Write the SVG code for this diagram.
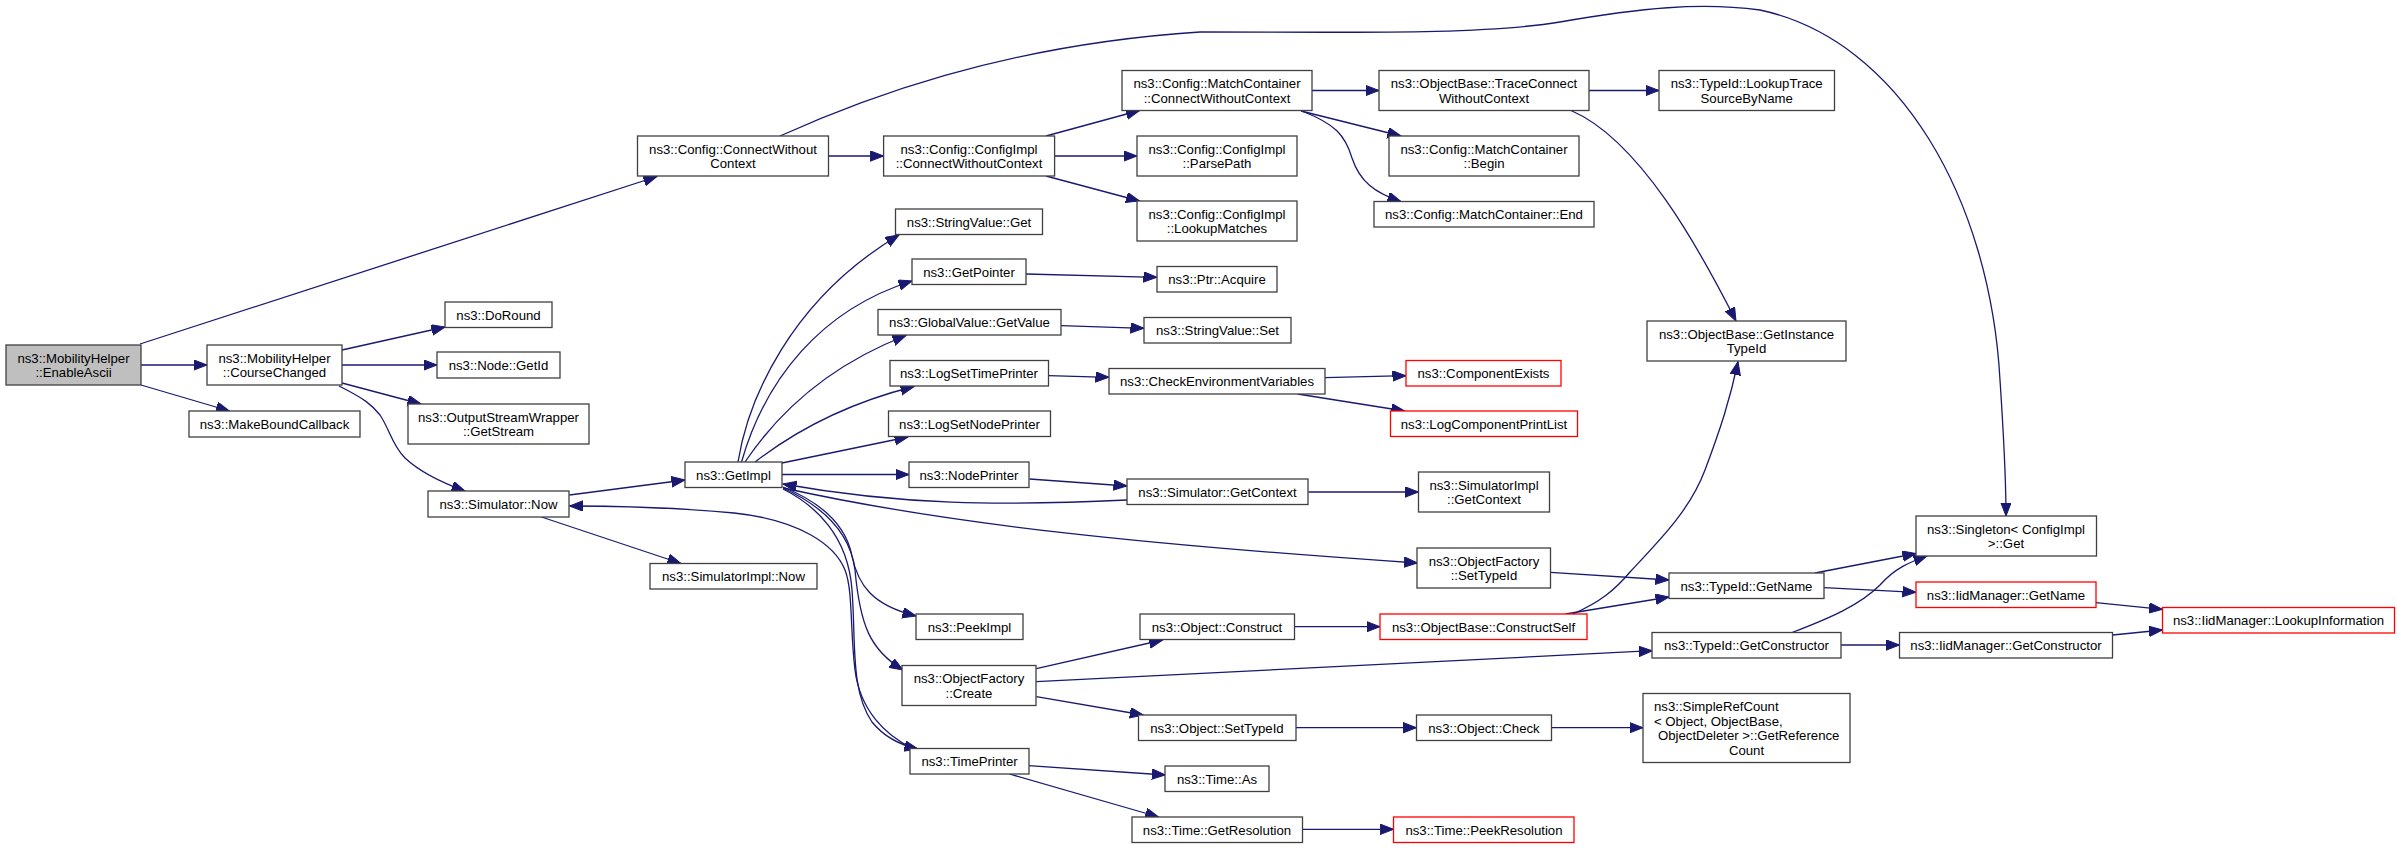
<svg xmlns="http://www.w3.org/2000/svg" width="2397" height="848" viewBox="0 0 2397 848">
<defs>
<marker id="ah" markerWidth="15" markerHeight="12" refX="13.5" refY="5.25" orient="auto" markerUnits="userSpaceOnUse">
<path d="M0,0 L13.5,5.25 L0,10.5 z" fill="#191970" stroke="#191970" stroke-width="1"/>
</marker>
<style>
.n rect{fill:#ffffff;stroke:#404040;stroke-width:1.3}
.r rect{stroke:#ff0000}
.g rect{fill:#bfbfbf}
text{font-family:"Liberation Sans",Arial,Helvetica,sans-serif;font-size:13.2px;text-anchor:middle;fill:#000000}
text.l{text-anchor:start}
#edges path{fill:none;stroke:#191970;stroke-width:1.3;marker-end:url(#ah)}
</style>
</defs>
<rect x="0" y="0" width="2397" height="848" fill="#ffffff"/>
<g id="edges">
<path d="M140,344 L657,176.5"/>
<path d="M141,365 L207,365"/>
<path d="M141,385 L229.5,411"/>
<path d="M342,350 L445,327"/>
<path d="M342,365 L437,365"/>
<path d="M342,383 L421,404"/>
<path d="M339,386 C365,399 372,405 380,415 C390,430 392,445 405,458 C420,472 440,482 465,491"/>
<path d="M829,156 L883.6,156"/>
<path d="M780,136 C860,100 1000,45 1200,32 C1350,32 1480,35 1560,22 C1640,8 1700,2 1760,10 C1900,40 1990,200 2000,380 C2004,440 2006,480 2006,516"/>
<path d="M1046,136 L1139.5,110.5"/>
<path d="M1054.6,156 L1137,156"/>
<path d="M1046,176 L1139.5,201"/>
<path d="M1312,90.5 L1379,90.5"/>
<path d="M1301,111 L1401,136"/>
<path d="M1303,111.5 C1335,124 1345,135 1352,158 C1360,182 1375,193 1401,201.5"/>
<path d="M1589,90.5 L1659,90.5"/>
<path d="M1571,110.5 C1640,140 1700,250 1736,321"/>
<path d="M569.5,495 L685,480"/>
<path d="M541.5,517 L681,563.5"/>
<path d="M912,748 C885,735 860,710 855,670 C850,630 853,590 845,570 C835,545 800,520 734,513 C680,508 620,506 569.5,506"/>
<path d="M738,462 C748,400 790,300 899,235"/>
<path d="M741.5,462 C765,380 820,310 912,281"/>
<path d="M745,462 C780,410 830,365 906,335.5"/>
<path d="M755,462 C790,435 840,405 914,386.5"/>
<path d="M782,463 L908,437"/>
<path d="M782,474.5 L909,474.5"/>
<path d="M783.5,488 C950,525 1150,545 1417.5,563"/>
<path d="M783,487 C815,500 845,520 852,556 C858,585 872,605 916,616"/>
<path d="M783,488 C820,505 850,530 855,570 C860,625 870,650 903,670"/>
<path d="M783,489 C815,505 848,535 852,590 C856,640 850,690 872,722 C885,738 900,745 918,749"/>
<path d="M1127,500 C1000,506 900,505 783,484"/>
<path d="M1029.5,479 L1127,486"/>
<path d="M1308.5,492 L1418.5,492"/>
<path d="M1061,325.7 L1144,328.3"/>
<path d="M1026,274 L1157,277.3"/>
<path d="M1048.5,375.7 L1109,377.3"/>
<path d="M1325,377.7 L1406,375.7"/>
<path d="M1297.6,394 L1404.7,411"/>
<path d="M1550.5,572.3 L1669,580"/>
<path d="M1815,573 L1916,553.5"/>
<path d="M1824,587.7 L1916,592.3"/>
<path d="M2096,602.7 L2162.5,609.3"/>
<path d="M2112.7,635 L2162.5,630"/>
<path d="M1792,632.5 C1830,618 1860,605 1880,585 C1895,568 1910,562 1927,556"/>
<path d="M1841,645 L1899.5,645"/>
<path d="M1565.5,614 L1669,597"/>
<path d="M1573,614 C1600,602 1615,590 1630,572 C1660,540 1690,510 1705,470 C1720,430 1730,400 1738,361.5"/>
<path d="M1036.3,668.7 L1162.6,640"/>
<path d="M1036.3,681.7 L1652.3,650.7"/>
<path d="M1036.3,696.7 L1143.4,715"/>
<path d="M1294.5,626.7 L1380,626.7"/>
<path d="M1296,727.7 L1416.5,727.7"/>
<path d="M1551.3,727.7 L1643,727.7"/>
<path d="M1028.6,765.7 L1165.3,775"/>
<path d="M1009.5,774 L1158.7,817"/>
<path d="M1302.6,829.3 L1393.6,829.3"/>
</g>
<g id="n1" class="n g"><rect x="6" y="345" width="135" height="40"/><text x="73.5" y="362.5">ns3::MobilityHelper</text><text x="73.5" y="377">::EnableAscii</text></g>
<g id="n2" class="n"><rect x="207" y="345" width="135" height="40"/><text x="274.5" y="362.5">ns3::MobilityHelper</text><text x="274.5" y="377">::CourseChanged</text></g>
<g id="n3" class="n"><rect x="445" y="302" width="107" height="25.5"/><text x="498.5" y="319.5">ns3::DoRound</text></g>
<g id="n4" class="n"><rect x="437" y="352" width="123" height="26"/><text x="498.5" y="369.7">ns3::Node::GetId</text></g>
<g id="n5" class="n"><rect x="408" y="404" width="181" height="40"/><text x="498.5" y="421.5">ns3::OutputStreamWrapper</text><text x="498.5" y="436">::GetStream</text></g>
<g id="n6" class="n"><rect x="189" y="411" width="171" height="26"/><text x="274.5" y="428.7">ns3::MakeBoundCallback</text></g>
<g id="n7" class="n"><rect x="428" y="491" width="141" height="26"/><text x="498.5" y="508.7">ns3::Simulator::Now</text></g>
<g id="n8" class="n"><rect x="637.5" y="136" width="191" height="40"/><text x="733" y="153.5">ns3::Config::ConnectWithout</text><text x="733" y="168">Context</text></g>
<g id="n9" class="n"><rect x="685" y="462" width="97" height="25.5"/><text x="733.5" y="479.5">ns3::GetImpl</text></g>
<g id="n10" class="n"><rect x="650" y="563.5" width="167" height="25.5"/><text x="733.5" y="581">ns3::SimulatorImpl::Now</text></g>
<g id="n11" class="n"><rect x="883.6" y="136" width="171" height="40"/><text x="969" y="153.5">ns3::Config::ConfigImpl</text><text x="969" y="168">::ConnectWithoutContext</text></g>
<g id="n12" class="n"><rect x="895.5" y="209" width="147" height="25.5"/><text x="969" y="226.5">ns3::StringValue::Get</text></g>
<g id="n13" class="n"><rect x="912" y="259" width="114" height="25.5"/><text x="969" y="276.5">ns3::GetPointer</text></g>
<g id="n14" class="n"><rect x="878" y="309.5" width="183" height="25.5"/><text x="969.5" y="327">ns3::GlobalValue::GetValue</text></g>
<g id="n15" class="n"><rect x="890" y="360.5" width="158.5" height="25.5"/><text x="969" y="378">ns3::LogSetTimePrinter</text></g>
<g id="n16" class="n"><rect x="888.5" y="411" width="162" height="25.5"/><text x="969.5" y="428.5">ns3::LogSetNodePrinter</text></g>
<g id="n17" class="n"><rect x="909" y="462" width="120" height="25.5"/><text x="969" y="479.5">ns3::NodePrinter</text></g>
<g id="n18" class="n"><rect x="916" y="614" width="107" height="25.5"/><text x="969.5" y="631.5">ns3::PeekImpl</text></g>
<g id="n19" class="n"><rect x="902" y="665.5" width="134" height="40"/><text x="969" y="683">ns3::ObjectFactory</text><text x="969" y="697.5">::Create</text></g>
<g id="n20" class="n"><rect x="910" y="748.5" width="119" height="25.5"/><text x="969.5" y="766">ns3::TimePrinter</text></g>
<g id="n21" class="n"><rect x="1122" y="70.5" width="190" height="40"/><text x="1217" y="88">ns3::Config::MatchContainer</text><text x="1217" y="102.5">::ConnectWithoutContext</text></g>
<g id="n22" class="n"><rect x="1137" y="136" width="160" height="40"/><text x="1217" y="153.5">ns3::Config::ConfigImpl</text><text x="1217" y="168">::ParsePath</text></g>
<g id="n23" class="n"><rect x="1137" y="201" width="160" height="40"/><text x="1217" y="218.5">ns3::Config::ConfigImpl</text><text x="1217" y="233">::LookupMatches</text></g>
<g id="n24" class="n"><rect x="1157" y="266.5" width="120" height="25.5"/><text x="1217" y="284">ns3::Ptr::Acquire</text></g>
<g id="n25" class="n"><rect x="1144" y="317.5" width="147" height="25.5"/><text x="1217.5" y="335">ns3::StringValue::Set</text></g>
<g id="n26" class="n"><rect x="1109" y="368.5" width="216" height="25.5"/><text x="1217" y="386">ns3::CheckEnvironmentVariables</text></g>
<g id="n27" class="n"><rect x="1127" y="479" width="181" height="25.5"/><text x="1217.5" y="496.5">ns3::Simulator::GetContext</text></g>
<g id="n28" class="n"><rect x="1140" y="614" width="154.5" height="25.5"/><text x="1217" y="631.5">ns3::Object::Construct</text></g>
<g id="n29" class="n"><rect x="1138.5" y="715" width="157.5" height="25.5"/><text x="1217" y="732.5">ns3::Object::SetTypeId</text></g>
<g id="n30" class="n"><rect x="1165" y="766" width="104" height="25.5"/><text x="1217" y="783.5">ns3::Time::As</text></g>
<g id="n31" class="n"><rect x="1132" y="817" width="170.5" height="25.5"/><text x="1217" y="834.5">ns3::Time::GetResolution</text></g>
<g id="n32" class="n"><rect x="1379" y="70.5" width="210" height="40"/><text x="1484" y="88">ns3::ObjectBase::TraceConnect</text><text x="1484" y="102.5">WithoutContext</text></g>
<g id="n33" class="n"><rect x="1389" y="136" width="190" height="40"/><text x="1484" y="153.5">ns3::Config::MatchContainer</text><text x="1484" y="168">::Begin</text></g>
<g id="n34" class="n"><rect x="1374" y="201.5" width="220" height="25.5"/><text x="1484" y="219">ns3::Config::MatchContainer::End</text></g>
<g id="n35" class="n r"><rect x="1406" y="360.5" width="155" height="25.5"/><text x="1483.5" y="378">ns3::ComponentExists</text></g>
<g id="n36" class="n r"><rect x="1390.5" y="411" width="187" height="25.5"/><text x="1484" y="428.5">ns3::LogComponentPrintList</text></g>
<g id="n37" class="n"><rect x="1418.5" y="472" width="131" height="40"/><text x="1484" y="489.5">ns3::SimulatorImpl</text><text x="1484" y="504">::GetContext</text></g>
<g id="n38" class="n"><rect x="1417" y="548" width="133.5" height="40"/><text x="1484" y="565.5">ns3::ObjectFactory</text><text x="1484" y="580">::SetTypeId</text></g>
<g id="n39" class="n r"><rect x="1380" y="614" width="207" height="25.5"/><text x="1483.5" y="631.5">ns3::ObjectBase::ConstructSelf</text></g>
<g id="n40" class="n"><rect x="1416.5" y="715" width="135" height="25.5"/><text x="1484" y="732.5">ns3::Object::Check</text></g>
<g id="n41" class="n r"><rect x="1393.5" y="817" width="180.5" height="25.5"/><text x="1484" y="834.5">ns3::Time::PeekResolution</text></g>
<g id="n42" class="n"><rect x="1659" y="70.5" width="175.5" height="40"/><text x="1746.7" y="88">ns3::TypeId::LookupTrace</text><text x="1746.7" y="102.5">SourceByName</text></g>
<g id="n43" class="n"><rect x="1647" y="321" width="199" height="40"/><text x="1746.5" y="338.5">ns3::ObjectBase::GetInstance</text><text x="1746.5" y="353">TypeId</text></g>
<g id="n44" class="n"><rect x="1669" y="573" width="155" height="25.5"/><text x="1746.5" y="590.5">ns3::TypeId::GetName</text></g>
<g id="n45" class="n"><rect x="1652" y="632.5" width="189" height="25.5"/><text x="1746.5" y="650">ns3::TypeId::GetConstructor</text></g>
<g id="n46" class="n"><rect x="1643" y="693.5" width="207" height="69"/><text class="l" x="1654" y="711">ns3::SimpleRefCount</text><text class="l" x="1654" y="725.5">&lt; Object, ObjectBase,</text><text class="l" x="1658" y="740">ObjectDeleter &gt;::GetReference</text><text x="1746.5" y="754.5">Count</text></g>
<g id="n47" class="n"><rect x="1916" y="516" width="180.5" height="40"/><text x="2006" y="533.5">ns3::Singleton&lt; ConfigImpl</text><text x="2006" y="548">&gt;::Get</text></g>
<g id="n48" class="n r"><rect x="1916" y="582" width="180" height="25.5"/><text x="2006" y="599.5">ns3::IidManager::GetName</text></g>
<g id="n49" class="n"><rect x="1899.5" y="632.5" width="213" height="25.5"/><text x="2006" y="650">ns3::IidManager::GetConstructor</text></g>
<g id="n50" class="n r"><rect x="2162.5" y="607.5" width="232" height="25.5"/><text x="2278.5" y="625">ns3::IidManager::LookupInformation</text></g>
</svg>
